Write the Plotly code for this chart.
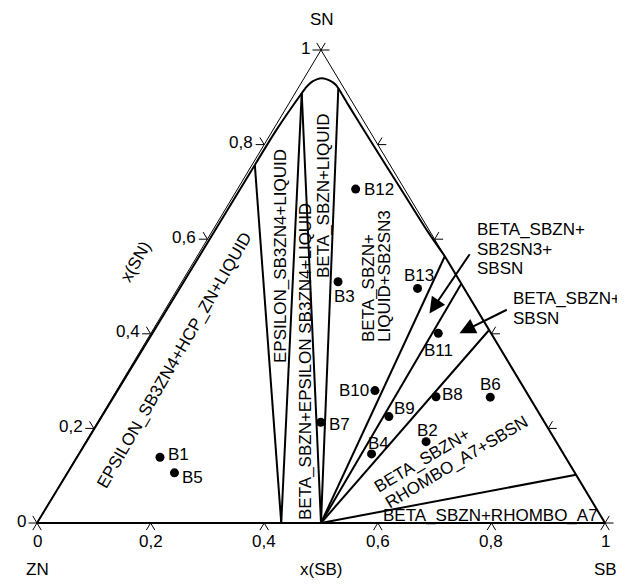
import plotly.graph_objects as go

# ---------------- data (compositions) ----------------
# samples: mole fractions x(SB), x(SN)
sample_names = ["B1", "B2", "B3", "B4", "B5", "B6", "B7", "B8", "B9", "B10", "B11", "B12", "B13"]
sample_xsb = [0.147, 0.599, 0.275, 0.516, 0.189, 0.665, 0.393, 0.569, 0.507, 0.455, 0.506, 0.208, 0.422]
sample_xsn = [0.139, 0.172, 0.510, 0.146, 0.106, 0.266, 0.213, 0.267, 0.225, 0.280, 0.401, 0.706, 0.496]
# label offsets (pixels, right / up) of the sample names
label_dx = [18.6, 1.3, 6.0, 6.7, 17.8, 0.0, 18.6, 16.7, 16.0, -21.4, 0.0, 23.0, 1.6]
label_dy = [2.3, 11.0, -15.0, 10.7, -4.5, 12.3, -2.7, 2.7, 7.7, 0.0, -16.7, 0.0, 13.3]

# tie-line (three-phase triangle) boundaries: start -> end compositions
tie_start_xsb = [0.43, 0.43, 0.50, 0.50, 0.50, 0.50, 0.50, 0.50]
tie_start_xsn = [0.0, 0.0, 0.0, 0.0, 0.0, 0.0, 0.0, 0.0]
tie_end_xsb = [0.005, 0.0118, 0.0118, 0.071, 0.436, 0.494, 0.592, 0.898]
tie_end_xsn = [0.757, 0.9085, 0.9085, 0.919, 0.564, 0.506, 0.408, 0.102]

# liquid phase boundary
liq_xsb = [0.005, 0.006, 0.0118, 0.0135, 0.018, 0.0245, 0.0311, 0.040, 0.0523, 0.062, 0.071,
           0.105, 0.1815, 0.300, 0.380, 0.436]
liq_xsn = [0.757, 0.830, 0.9085, 0.922, 0.933, 0.9385, 0.9402, 0.9385, 0.933, 0.927, 0.919,
           0.885, 0.8097, 0.694, 0.616, 0.564]

# triangle edges drawn as phase boundaries
edge_xsb = [0.005, 0.0, 1.0, 0.436]
edge_xsn = [0.757, 0.0, 0.0, 0.564]

tick_values = [0.0, 0.2, 0.4, 0.6, 0.8, 1.0]
tick_labels = ["0", "0,2", "0,4", "0,6", "0,8", "1"]

# ---------------- geometry helpers ----------------
OFF = 8                      # page body margin of the html page
W, H = 625 - OFF, 585 - OFF
PX0, PX1, PY0, PY1 = 37 - OFF, 605 - OFF, 523 - OFF, 50 - OFF


def to_xy(xsb, xsn):
    return [b + n / 2 for b, n in zip(xsb, xsn)], list(xsn)


def P(px, py):
    # page pixel -> data coordinates (for label placement)
    px, py = px - OFF, py - OFF
    return (px - PX0) / (PX1 - PX0), (PY0 - py) / (PY0 - PY1)


xr = [(0 - PX0) / (PX1 - PX0), (W - PX0) / (PX1 - PX0)]
yr = [(PY0 - H) / (PY0 - PY1), (PY0 - 0) / (PY0 - PY1)]

FONT = dict(family="Liberation Sans, Arial, sans-serif", size=17, color="black")

fig = go.Figure()

# thin triangle outline
tx, ty = to_xy([0, 1, 0, 0], [0, 0, 1, 0])
fig.add_trace(go.Scatter(x=tx, y=ty, mode="lines", line=dict(color="black", width=1),
                         hoverinfo="skip", showlegend=False))

# ticks (pointing outwards, along the ternary grid directions)
t = 0.015
kx, ky = [], []
for s in tick_values:
    # bottom axis
    kx += [s - 0.5 * t, s, s + 0.5 * t, None]
    ky += [-t, 0, -t, None]
    # left axis (x(SN))
    x0, y0 = s / 2, s
    kx += [x0 - t, x0, x0 - 0.5 * t, None]
    ky += [y0, y0, y0 + t, None]
    # right axis
    x0, y0 = 1 - s / 2, s
    kx += [x0 + t, x0, x0 + 0.5 * t, None]
    ky += [y0, y0, y0 + t, None]
fig.add_trace(go.Scatter(x=kx, y=ky, mode="lines", line=dict(color="black", width=1),
                         hoverinfo="skip", showlegend=False))

# thick boundaries along edges
ex, ey = to_xy(edge_xsb[:3], edge_xsn[:3])
fig.add_trace(go.Scatter(x=ex, y=ey, mode="lines", line=dict(color="black", width=2),
                         hoverinfo="skip", showlegend=False))
ex, ey = to_xy(edge_xsb[2:], edge_xsn[2:])
fig.add_trace(go.Scatter(x=ex, y=ey, mode="lines", line=dict(color="black", width=2),
                         hoverinfo="skip", showlegend=False))

# liquid boundary
lx, ly = to_xy(liq_xsb, liq_xsn)
fig.add_trace(go.Scatter(x=lx, y=ly, mode="lines",
                         line=dict(color="black", width=2, shape="spline", smoothing=0.6),
                         hoverinfo="skip", showlegend=False))

# tie lines
tlx, tly = [], []
for a, b, c, d in zip(tie_start_xsb, tie_start_xsn, tie_end_xsb, tie_end_xsn):
    (x1, x2), (y1, y2) = to_xy([a, c], [b, d])
    tlx += [x1, x2, None]
    tly += [y1, y2, None]
fig.add_trace(go.Scatter(x=tlx, y=tly, mode="lines", line=dict(color="black", width=2),
                         hoverinfo="skip", showlegend=False))

# samples
sx, sy = to_xy(sample_xsb, sample_xsn)
fig.add_trace(go.Scatter(x=sx, y=sy, mode="markers", marker=dict(color="black", size=9),
                         hoverinfo="skip", showlegend=False))

ann = []
for name, x, y, dx, dy in zip(sample_names, sx, sy, label_dx, label_dy):
    ann.append(dict(x=x, y=y, text=name, showarrow=False, xshift=dx, yshift=dy, font=FONT))

# tick labels
for s, lab in zip(tick_values, tick_labels):
    ann.append(dict(x=s, y=0, text=lab, showarrow=False, yshift=-18, font=FONT))
    ann.append(dict(x=s / 2, y=s, text=lab, showarrow=False, xanchor="right", xshift=-9, yshift=2,
                    font=FONT))

# axis titles
for txt, (px, py), ang in [("SN", (322, 19), 0), ("ZN", (37, 569), 0), ("x(SB)", (321, 569), 0),
                           ("SB", (605, 569), 0), ("x(SN)", (135, 262), -60)]:
    x, y = P(px, py)
    ann.append(dict(x=x, y=y, text=txt, showarrow=False, textangle=ang, font=FONT))

# region labels
regions = [
    ("EPSILON_SB3ZN4+HCP_ZN+LIQUID", (174, 360), -60),
    ("EPSILON_SB3ZN4+LIQUID", (280, 256), -90),
    ("BETA_SBZN+EPSILON SB3ZN4+LIQUID", (305, 362), -90),
    ("BETA_SBZN+LIQUID", (323, 196), -90),
    ("BETA_SBZN+", (368, 288), -90),
    ("LIQUID+SB2SN3", (384, 276), -90),
    ("BETA_SBZN+", (422, 460), -31),
    ("RHOMBO_A7+SBSN", (456, 462), -31),
    ("BETA_SBZN+RHOMBO_A7", (490, 515), 0),
]
for txt, (px, py), ang in regions:
    x, y = P(px, py)
    ann.append(dict(x=x, y=y, text=txt, showarrow=False, textangle=ang, font=FONT))

for txt, (px, py) in [("BETA_SBZN+", (475, 229.5)), ("SB2SN3+", (475, 249)), ("SBSN", (475, 268.5)),
                      ("BETA_SBZN+", (511, 298.5)), ("SBSN", (511, 318.5))]:
    x, y = P(px, py)
    ann.append(dict(x=x, y=y, text=txt, showarrow=False, xanchor="left", font=FONT))

# arrows
for (hx, hy), (tx_, ty_) in [((429.5, 313.5), (470.7, 252.7)), ((459.5, 333.3), (508.3, 309))]:
    x, y = P(hx, hy)
    ax, ay = P(tx_, ty_)
    ann.append(dict(x=x, y=y, ax=ax, ay=ay, axref="x", ayref="y", text="", showarrow=True,
                    arrowhead=2, arrowsize=1.6, arrowwidth=2, arrowcolor="black", standoff=0))

fig.update_layout(
    width=W, height=H,
    margin=dict(l=0, r=0, t=0, b=0, pad=0),
    paper_bgcolor="white", plot_bgcolor="white",
    xaxis=dict(range=xr, visible=False, fixedrange=True),
    yaxis=dict(range=yr, visible=False, fixedrange=True),
    annotations=ann,
    showlegend=False,
)

fig.write_html("out.html")
